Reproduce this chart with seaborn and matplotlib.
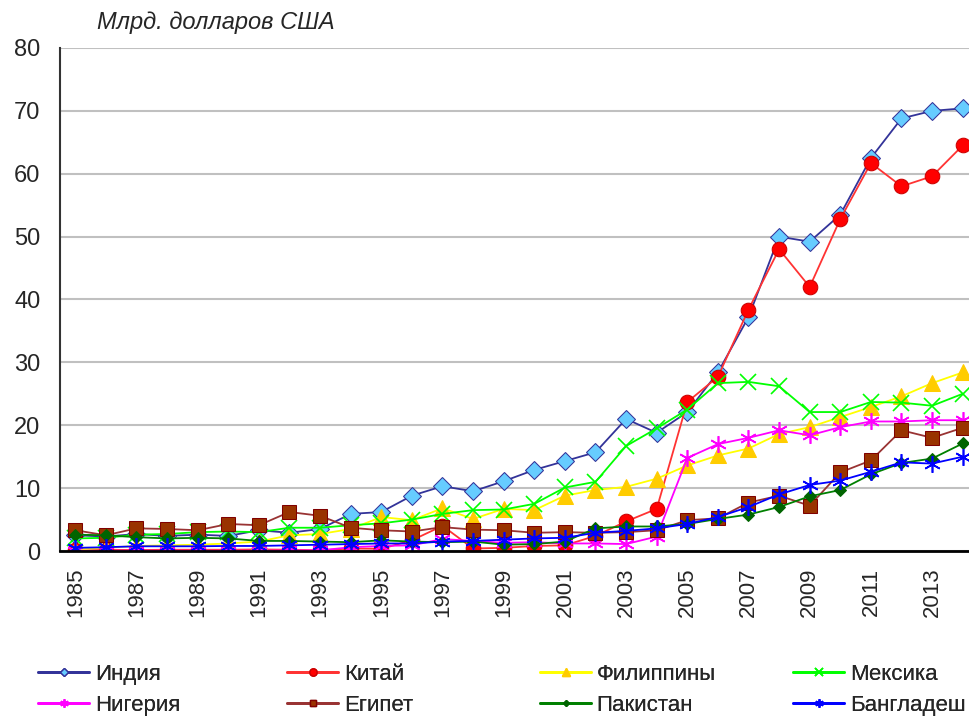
import pandas as pd
import matplotlib
matplotlib.use("Agg")
import matplotlib.pyplot as plt
from matplotlib.lines import Line2D
import seaborn as sns

years = list(range(1985, 2015))

india = [2.5, 2.3, 2.7, 2.4, 2.6, 2.4, 3.3, 2.9, 3.5, 5.9, 6.2, 8.8, 10.3, 9.5, 11.1,
         12.9, 14.3, 15.7, 21.0, 18.8, 22.1, 28.4, 37.2, 50.0, 49.2, 53.5, 62.5, 68.8, 70.0, 70.4]
china = [0.2, 0.2, 0.15, 0.2, 0.2, 0.2, 0.25, 0.2, 0.1, 0.4, 0.35, 1.7, 4.0, 0.4, 0.5,
         0.8, 0.9, 2.4, 4.7, 6.7, 23.7, 27.7, 38.4, 48.0, 42.0, 52.8, 61.7, 58.0, 59.6, 64.5]
philippines = [0.2, 0.5, 0.8, 0.9, 1.0, 1.2, 1.5, 2.5, 2.7, 3.5, 5.4, 4.9, 6.8, 5.1, 6.7,
               6.5, 8.8, 9.7, 10.2, 11.5, 13.6, 15.2, 16.3, 18.6, 19.7, 21.3, 22.9, 24.6, 26.7, 28.4]
mexico = [2.0, 2.1, 2.6, 2.7, 3.0, 3.1, 3.0, 3.7, 3.7, 4.1, 4.4, 5.0, 5.9, 6.5, 6.6,
          7.5, 10.1, 11.0, 16.7, 19.5, 22.5, 26.7, 26.9, 26.2, 22.1, 22.1, 23.7, 23.6, 23.1, 25.0]
nigeria = [0.05, 0.05, 0.05, 0.05, 0.05, 0.05, 0.05, 0.1, 0.1, 0.6, 0.8, 0.9, 1.9, 1.6, 1.3,
           1.4, 1.2, 1.2, 1.1, 2.3, 14.8, 17.0, 18.0, 19.2, 18.4, 19.7, 20.6, 20.6, 20.8, 20.8]
egypt = [3.3, 2.5, 3.6, 3.5, 3.3, 4.3, 4.1, 6.2, 5.6, 3.7, 3.3, 3.1, 3.8, 3.4, 3.3,
         2.9, 3.0, 2.9, 3.0, 3.3, 4.9, 5.2, 7.7, 8.8, 7.2, 12.5, 14.4, 19.2, 18.0, 19.6]
pakistan = [2.6, 2.5, 2.2, 2.0, 2.1, 2.0, 1.6, 1.6, 1.5, 1.4, 1.7, 1.5, 1.4, 1.5, 1.0,
            1.1, 1.5, 3.6, 3.9, 3.9, 4.3, 5.1, 5.8, 7.0, 8.7, 9.7, 12.2, 14.0, 14.7, 17.1]
bangladesh = [0.5, 0.6, 0.75, 0.75, 0.75, 0.8, 0.8, 0.9, 1.0, 1.1, 1.2, 1.2, 1.5, 1.6, 1.8,
              2.0, 2.1, 2.9, 3.2, 3.6, 4.3, 5.4, 7.0, 9.0, 10.5, 11.2, 12.6, 14.1, 13.9, 15.0]

names = ['Индия', 'Китай', 'Филиппины', 'Мексика',
         'Нигерия', 'Египет', 'Пакистан', 'Бангладеш']
values = [india, china, philippines, mexico, nigeria, egypt, pakistan, bangladesh]

df = pd.DataFrame({'year': years})
for n, v in zip(names, values):
    df[n] = v

# line colour, marker, size, face, edge
styles = {
    'Индия': dict(color='#333399', marker='D', markersize=9, markerfacecolor='#66CCFF', markeredgecolor='#333399'),
    'Китай': dict(color='#FF3333', marker='o', markersize=10.5, markerfacecolor='#FF0000', markeredgecolor='#CC0000'),
    'Филиппины': dict(color='#FFFF00', marker='^', markersize=11, markerfacecolor='#FFCC00', markeredgecolor='#FFCC00'),
    'Мексика': dict(color='#00FF00', marker='x', markersize=11, markeredgewidth=1.2, markeredgecolor='#00FF00'),
    'Нигерия': dict(color='#FF00FF', marker=(6, 2, 0), markersize=12, markeredgewidth=1.2, markeredgecolor='#FF00FF'),
    'Египет': dict(color='#993333', marker='s', markersize=9.5, markerfacecolor='#993300', markeredgecolor='#800000'),
    'Пакистан': dict(color='#008000', marker='D', markersize=6, markerfacecolor='#006400', markeredgecolor='#006400'),
    'Бангладеш': dict(color='#0000FF', marker=(6, 2, 0), markersize=12, markeredgewidth=1.2, markeredgecolor='#0000FF'),
}

sns.set_style("white")
plt.rcParams['font.family'] = ['Liberation Sans', 'DejaVu Sans']

fig = plt.figure(figsize=(9.7, 7.19), dpi=100)
ax = fig.add_axes([60 / 970, 1 - 551 / 719, 918 / 970, (551 - 48) / 719])

for n in names:
    sns.lineplot(data=df, x='year', y=n, ax=ax, linewidth=1.3, **styles[n])

ax.set_xlim(1984.5, 2014.5)
ax.set_ylim(0, 80)
ax.set_yticks(range(0, 81, 10))
ax.set_xticks(years[::2])
ax.set_xticklabels([str(y) for y in years[::2]], rotation=90, fontsize=16)
ax.tick_params(axis='y', labelsize=17, length=0, pad=14)
ax.tick_params(axis='x', length=0, pad=12)
ax.set_xlabel('')
ax.set_ylabel('')
ax.grid(axis='y', color='#C0C0C0', linewidth=1.5)
ax.set_axisbelow(True)
for s in ['top', 'right']:
    ax.spines[s].set_visible(False)
ax.spines['left'].set_color('#333333')
ax.spines['left'].set_linewidth(1.5)
ax.spines['bottom'].set_color('black')
ax.spines['bottom'].set_linewidth(2)

fig.text(97 / 970, 1 - 22 / 719, 'Млрд. долларов США', fontsize=17, style='italic',
         ha='left', va='center')

# legend: 4 columns of 2 entries
col_x = [38, 287, 540, 793]
for i, x in enumerate(col_x):
    handles = []
    for n in (names[i], names[i + 4]):
        st = dict(styles[n])
        st['markersize'] = st['markersize'] * 0.5
        handles.append(Line2D([], [], linewidth=2, label=n, **st))
    leg = fig.legend(handles=handles, loc='upper left',
                     bbox_to_anchor=(x / 970, 1 - 664 / 719), frameon=False,
                     fontsize=16, handlelength=2.3, handletextpad=0.25,
                     labelspacing=0.45, borderaxespad=0, borderpad=0)
    fig.add_artist(leg)

fig.savefig('out.png', dpi=100)
